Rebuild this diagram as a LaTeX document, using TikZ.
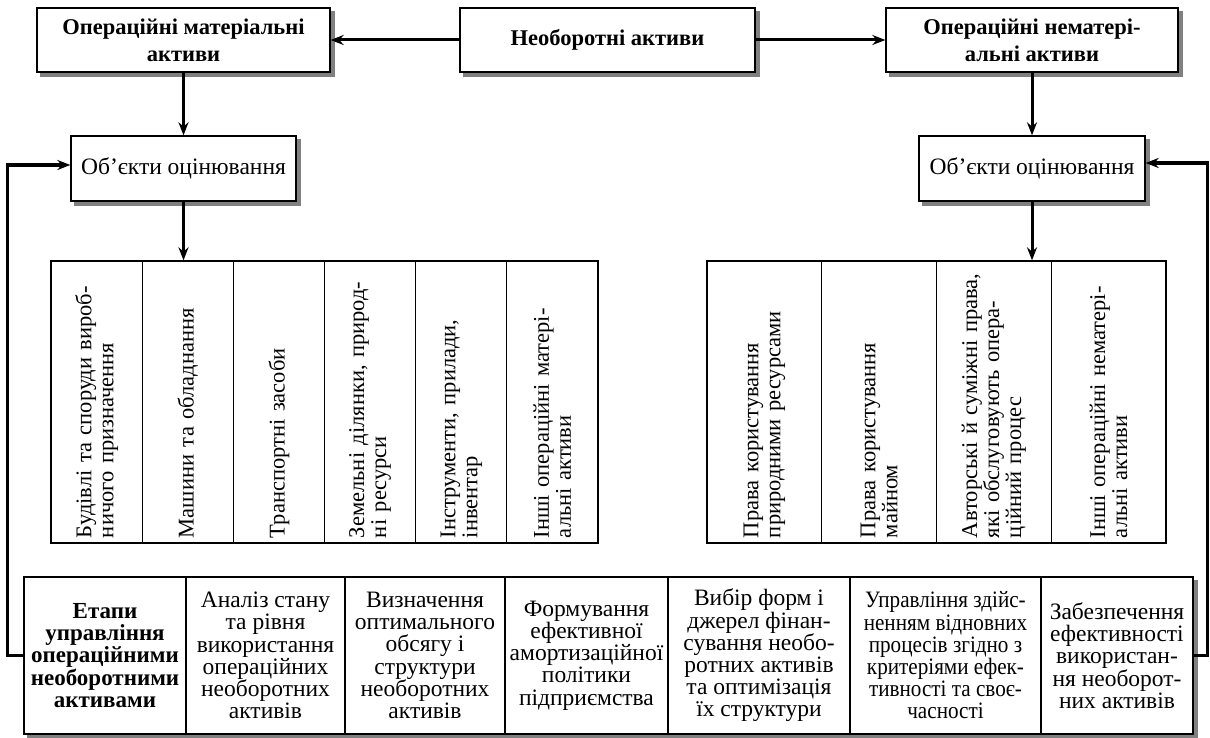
\documentclass[tikz,border=0pt]{standalone}
\usepackage{fontspec}
\setmainfont{Liberation Serif}
\newfontfamily\narrowserif[FakeStretch=0.9]{Liberation Serif}
\usetikzlibrary{arrows.meta}
\pgfdeclarelayer{background}
\pgfsetlayers{background,main}

\tikzset{
  box/.style={draw, line width=1.3pt, fill=white, inner sep=0pt, align=center},
  topbox/.style={box, minimum height=64pt, font=\bfseries\fontsize{22.5}{27}\selectfont},
  objbox/.style={box, minimum height=65pt, font=\fontsize{23.5}{26}\selectfont},
  vcell/.style={box, rotate=90, minimum width=282pt, minimum height=91.17pt,
    text width=272pt, align=left, inner xsep=5pt, inner ysep=0pt,
    font=\fontsize{22.5}{22}\selectfont},
  vcellw/.style={vcell, minimum height=114.75pt},
  stagecell/.style={box, minimum height=157pt, font=\fontsize{23.5}{22.2}\selectfont},
  conn/.style={line width=3pt, -{Stealth[length=13pt,width=10pt]}},
  loopline/.style={conn, line width=3.5pt},
  shadowfill/.style={fill=black!50},
}

\begin{document}
\begin{tikzpicture}[x=1pt,y=-1pt]
\useasboundingbox (0,0) rectangle (1210,738);

% top level
\node[topbox, minimum width=293pt] (L) at (183.5,40) {Операційні матеріальні\\активи};
\node[topbox, minimum width=295pt] (C) at (607.5,40) {Необоротні активи};
\node[topbox, minimum width=292pt] (R) at (1032,40) {Операційні нематері-\\альні активи};

% objects of evaluation
\node[objbox, minimum width=225pt] (objL) at (183.5,168.5) {Об’єкти оцінювання};
\node[objbox, minimum width=226pt] (objR) at (1032,168.5) {Об’єкти оцінювання};

% tangible assets
\node[vcell] (m1) at (96.6,402)  {\mbox{Будівлі та споруди вироб-}\\ничого призначення};
\node[vcell] (m2) at (187.8,402) {Машини та обладнання};
\node[vcell] (m3) at (278.9,402) {Транспортні засоби};
\node[vcell] (m4) at (370.1,402) {\mbox{Земельні ділянки, природ-}\\ні ресурси};
\node[vcell] (m5) at (461.3,402) {Інструменти, прилади,\\інвентар};
\node[vcell] (m6) at (552.4,402) {Інші операційні матері-\\альні активи};

% intangible assets
\node[vcellw] (n1) at (764.4,402)  {Права користування\\природними ресурсами};
\node[vcellw] (n2) at (879.1,402)  {Права користування\\майном};
\node[vcellw] (n3) at (993.9,402)  {\mbox{Авторські й суміжні права,}\\\mbox{які обслуговують опера-}\\ційний процес};
\node[vcellw] (n4) at (1108.6,402) {\mbox{Інші операційні нематері-}\\альні активи};

% management stages
\node[stagecell, minimum width=162pt, font=\bfseries\fontsize{23}{22.2}\selectfont] (b1) at (105,655.5)
  {Етапи\\управління\\операційними\\необоротними\\активами};
\node[stagecell, minimum width=159pt] (b2) at (265.5,655.5)
  {Аналіз стану\\та рівня\\використання\\операційних\\необоротних\\активів};
\node[stagecell, minimum width=160pt] (b3) at (425,655.5)
  {Визначення\\оптимального\\обсягу і\\структури\\необоротних\\активів};
\node[stagecell, minimum width=163pt] (b4) at (586.5,655.5)
  {Формування\\ефективної\\амортизаційної\\політики\\підприємства};
\node[stagecell, minimum width=182pt] (b5) at (759,655.5)
  {Вибір форм і\\джерел фінан-\\сування необо-\\ротних активів\\та оптимізація\\їх структури};
\node[stagecell, minimum width=191pt, font=\narrowserif\fontsize{23.5}{22.2}\selectfont] (b6) at (945.5,655.5)
  {Управління здійс-\\ненням відновних\\процесів згідно з\\критеріями ефек-\\тивності та своє-\\часності};
\node[stagecell, minimum width=152pt] (b7) at (1117,655.5)
  {Забезпечення\\ефективності\\використан-\\ня необорот-\\них активів};

% drop shadows
\begin{pgfonlayer}{background}
  \foreach \n in {L,C,R,objL,objR}{
    \fill[shadowfill] ([shift={(4pt,-4pt)}]\n.south west) rectangle ([shift={(4pt,-4pt)}]\n.north east);
  }
  \fill[shadowfill] ([shift={(4pt,-4pt)}]b1.south west) rectangle ([shift={(4pt,-4pt)}]b7.north east);
\end{pgfonlayer}

% connectors
\draw[conn] (C.west) -- (L.east);
\draw[conn] (C.east) -- (R.west);
\draw[conn] (L.south) -- (objL.north);
\draw[conn] (R.south) -- (objR.north);
\draw[conn] (objL.south) -- (objL.south |- m2.east);
\draw[conn] (objR.south) -- (objR.south |- n3.east);
\draw[loopline] (b1.west) -- ++(-16pt,0pt) |- ([yshift=3.5pt]objL.west);
\draw[loopline] (b7.east) -- ++(14pt,0pt) |- ([yshift=5.5pt]objR.east);
\end{tikzpicture}
\end{document}
